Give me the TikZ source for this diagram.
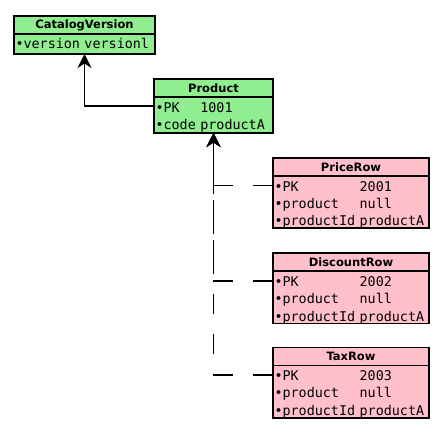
\documentclass[tikz,border=0pt]{standalone}
\usepackage{fontspec}
\setmainfont{DejaVu Sans}
\newfontfamily\monofont{DejaVu Sans Mono}
\usetikzlibrary{positioning,arrows.meta}
\definecolor{entitygreen}{RGB}{144,238,144}
\definecolor{rowpink}{RGB}{255,192,203}

\begin{document}
\begin{tikzpicture}[x=1pt, y=-1pt,
    box/.style={draw, line width=1.8pt, inner sep=0pt, outer sep=0pt},
    green box/.style={box, fill=entitygreen},
    pink box/.style={box, fill=rowpink},
    head/.style={minimum height=18pt, font=\fontsize{11.5}{13}\selectfont\bfseries},
    attrs/.style={inner xsep=1.5pt, align=left, font=\monofont\fontsize{13.4}{17.4}\selectfont},
    ref/.style={line width=1.8pt, -{Stealth[length=14pt,width=14pt]}},
    dashed ref/.style={ref, dash pattern=on 20pt off 20pt},]
\useasboundingbox (0,0) rectangle (446,437);

\node[green box, head, minimum width=141pt, anchor=north] (catalog head) at (84.5,16) {CatalogVersion};
\node[green box, attrs, text width=138pt, minimum height=20pt, below=0pt of catalog head] (catalog)
    {\raisebox{-1pt}[\height][\depth]{\begin{tabular}{@{}l@{ }l@{}}•version & versionl\end{tabular}}};

\node[green box, head, minimum width=119pt, anchor=north] (product head) at (213.5,79) {Product};
\node[green box, attrs, text width=116pt, minimum height=36pt, below=0pt of product head] (product)
    {\raisebox{-2.5pt}[\height][\depth]{\begin{tabular}{@{}l@{ }l@{}}•PK & 1001\\ •code & productA\end{tabular}}};

\node[pink box, head, minimum width=156pt, anchor=north] (pricerow head) at (351,158) {PriceRow};
\node[pink box, attrs, text width=153pt, minimum height=52pt, below=0pt of pricerow head] (pricerow)
    {\raisebox{-3pt}[\height][\depth]{\begin{tabular}{@{}l@{ }l@{}}•PK & 2001\\ •product & null\\ •productId & productA\end{tabular}}};

\node[pink box, head, minimum width=156pt, below=25pt of pricerow] (discountrow head) {DiscountRow};
\node[pink box, attrs, text width=153pt, minimum height=52pt, below=0pt of discountrow head] (discountrow)
    {\raisebox{-3pt}[\height][\depth]{\begin{tabular}{@{}l@{ }l@{}}•PK & 2002\\ •product & null\\ •productId & productA\end{tabular}}};

\node[pink box, head, minimum width=156pt, below=24pt of discountrow] (taxrow head) {TaxRow};
\node[pink box, attrs, text width=153pt, minimum height=52pt, below=0pt of taxrow head] (taxrow)
    {\raisebox{-3pt}[\height][\depth]{\begin{tabular}{@{}l@{ }l@{}}•PK & 2003\\ •product & null\\ •productId & productA\end{tabular}}};

\draw[ref] ([yshift=-9pt]product.north west) -| (catalog.south);
\draw[dashed ref] ([yshift=-9.5pt]pricerow.north west) -| (product.south);
\draw[dashed ref] ([yshift=-9.5pt]discountrow.north west) -| (product.south);
\draw[dashed ref] ([yshift=-9.5pt]taxrow.north west) -| (product.south);
\end{tikzpicture}
\end{document}
